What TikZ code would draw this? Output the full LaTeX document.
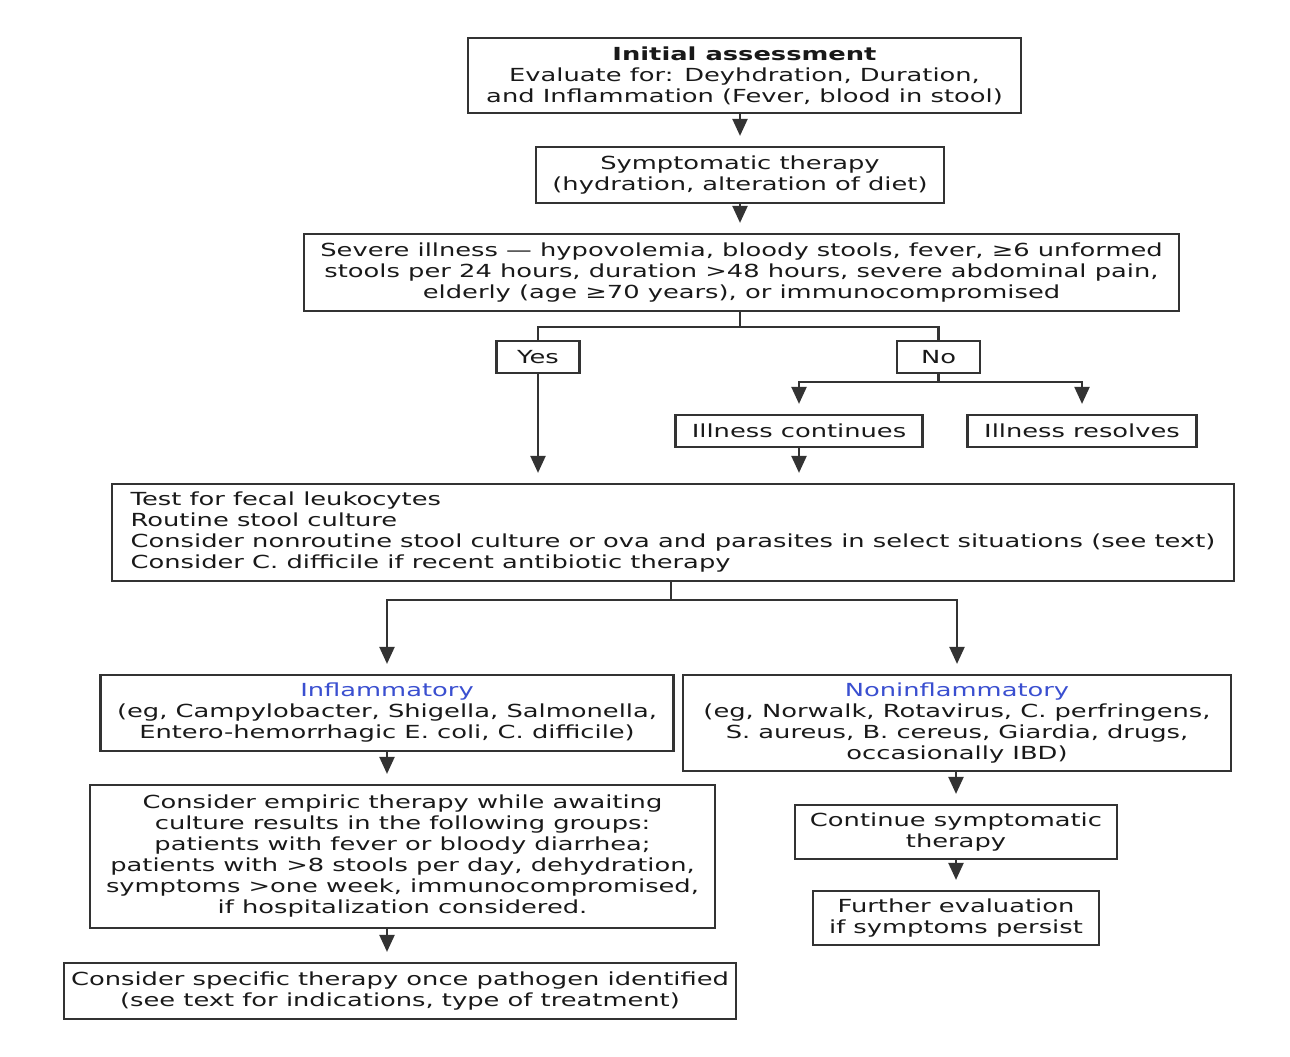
\documentclass[tikz,border=0pt]{standalone}
\usepackage{fontspec}
\setmainfont{DejaVu Sans}[FakeStretch=1.43]
\usetikzlibrary{arrows.meta}
\definecolor{lnc}{HTML}{333333}
\definecolor{blu}{HTML}{3A4FD0}
\begin{document}
\begin{tikzpicture}[x=1pt,y=-1pt,
 box/.style={draw=lnc, line width=2.2pt, rectangle, inner sep=0pt, align=center,
   font=\fontsize{18}{21}\selectfont, text=black!90},
 arr/.style={draw=lnc, line width=2.2pt, -{Triangle[width=15pt,length=17pt]}, shorten >=10pt},
 conn/.style={draw=lnc, line width=2.2pt}]
\useasboundingbox (0,0) rectangle (1290,1057);
\fill[white] (0,0) rectangle (1290,1057);

\node[box, minimum width=553pt, minimum height=75pt] (init) at (744.5,75.5)
  {\textbf{Initial assessment}\\Evaluate for: Deyhdration, Duration,\\and Inflammation (Fever, blood in stool)};
\node[box, minimum width=408pt, minimum height=56pt] (sympt) at (740,175)
  {Symptomatic therapy\\(hydration, alteration of diet)};
\node[box, minimum width=875pt, minimum height=77pt] (severe) at (741.5,272.5)
  {Severe illness — hypovolemia, bloody stools, fever, ≥6 unformed\\stools per 24 hours, duration >48 hours, severe abdominal pain,\\elderly (age ≥70 years), or immunocompromised};
\node[box, minimum width=83pt, minimum height=32pt] (yes) at (538,357) {Yes};
\node[box, minimum width=83pt, minimum height=32pt] (no) at (938.5,357) {No};
\node[box, minimum width=247pt, minimum height=32pt] (cont) at (799,431) {Illness continues};
\node[box, minimum width=229pt, minimum height=32pt] (res) at (1082,431) {Illness resolves};
\node[box, align=left, minimum width=1122pt, minimum height=97pt] (test) at (673,532.5)
  {Test for fecal leukocytes\\Routine stool culture\\Consider nonroutine stool culture or ova and parasites in select situations (see text)\\Consider C. difficile if recent antibiotic therapy};
\node[box, minimum width=573pt, minimum height=76pt] (infl) at (387,713)
  {\textcolor{blu}{Inflammatory}\\(eg, Campylobacter, Shigella, Salmonella,\\Entero-hemorrhagic E. coli, C. difficile)};
\node[box, minimum width=548pt, minimum height=96pt] (noninfl) at (957,723)
  {\textcolor{blu}{Noninflammatory}\\(eg, Norwalk, Rotavirus, C. perfringens,\\S. aureus, B. cereus, Giardia, drugs,\\occasionally IBD)};
\node[box, minimum width=625pt, minimum height=143pt] (emp) at (402.5,856.5)
  {Consider empiric therapy while awaiting\\culture results in the following groups:\\patients with fever or bloody diarrhea;\\patients with >8 stools per day, dehydration,\\symptoms >one week, immunocompromised,\\if hospitalization considered.};
\node[box, minimum width=672pt, minimum height=56pt] (spec) at (400,991)
  {Consider specific therapy once pathogen identified\\(see text for indications, type of treatment)};
\node[box, minimum width=322pt, minimum height=54pt] (csym) at (956,832)
  {Continue symptomatic\\therapy};
\node[box, minimum width=286pt, minimum height=54pt] (fur) at (956,918)
  {Further evaluation\\if symptoms persist};

\coordinate (sv) at (740,327);
\coordinate (nb) at (938.5,382);
\coordinate (ts) at (671,600);

\draw[arr] (sympt.north |- init.south) -- (sympt.north);
\draw[arr] (sympt.south) -- (sympt.south |- severe.north);
\draw[conn] (severe.south -| sv) -- (sv);
\draw[conn] (yes.north) |- (sv) -| (no.north);
\draw[arr] (yes.south) -- (yes.south |- test.north);
\draw[conn] (no.south) -- (nb);
\draw[arr] (nb) -| (cont.north);
\draw[arr] (nb) -| (res.north);
\draw[arr] (cont.south) -- (cont.south |- test.north);
\draw[conn] (test.south -| ts) -- (ts);
\draw[arr] (ts) -| (infl.north);
\draw[arr] (ts) -| (noninfl.north);
\draw[arr] (infl.south) -- (infl.south |- emp.north);
\draw[arr] (infl.south |- emp.south) -- (infl.south |- spec.north);
\draw[arr] (noninfl.south -| csym.north) -- (csym.north);
\draw[arr] (csym.south) -- (fur.north);
\end{tikzpicture}
\end{document}
